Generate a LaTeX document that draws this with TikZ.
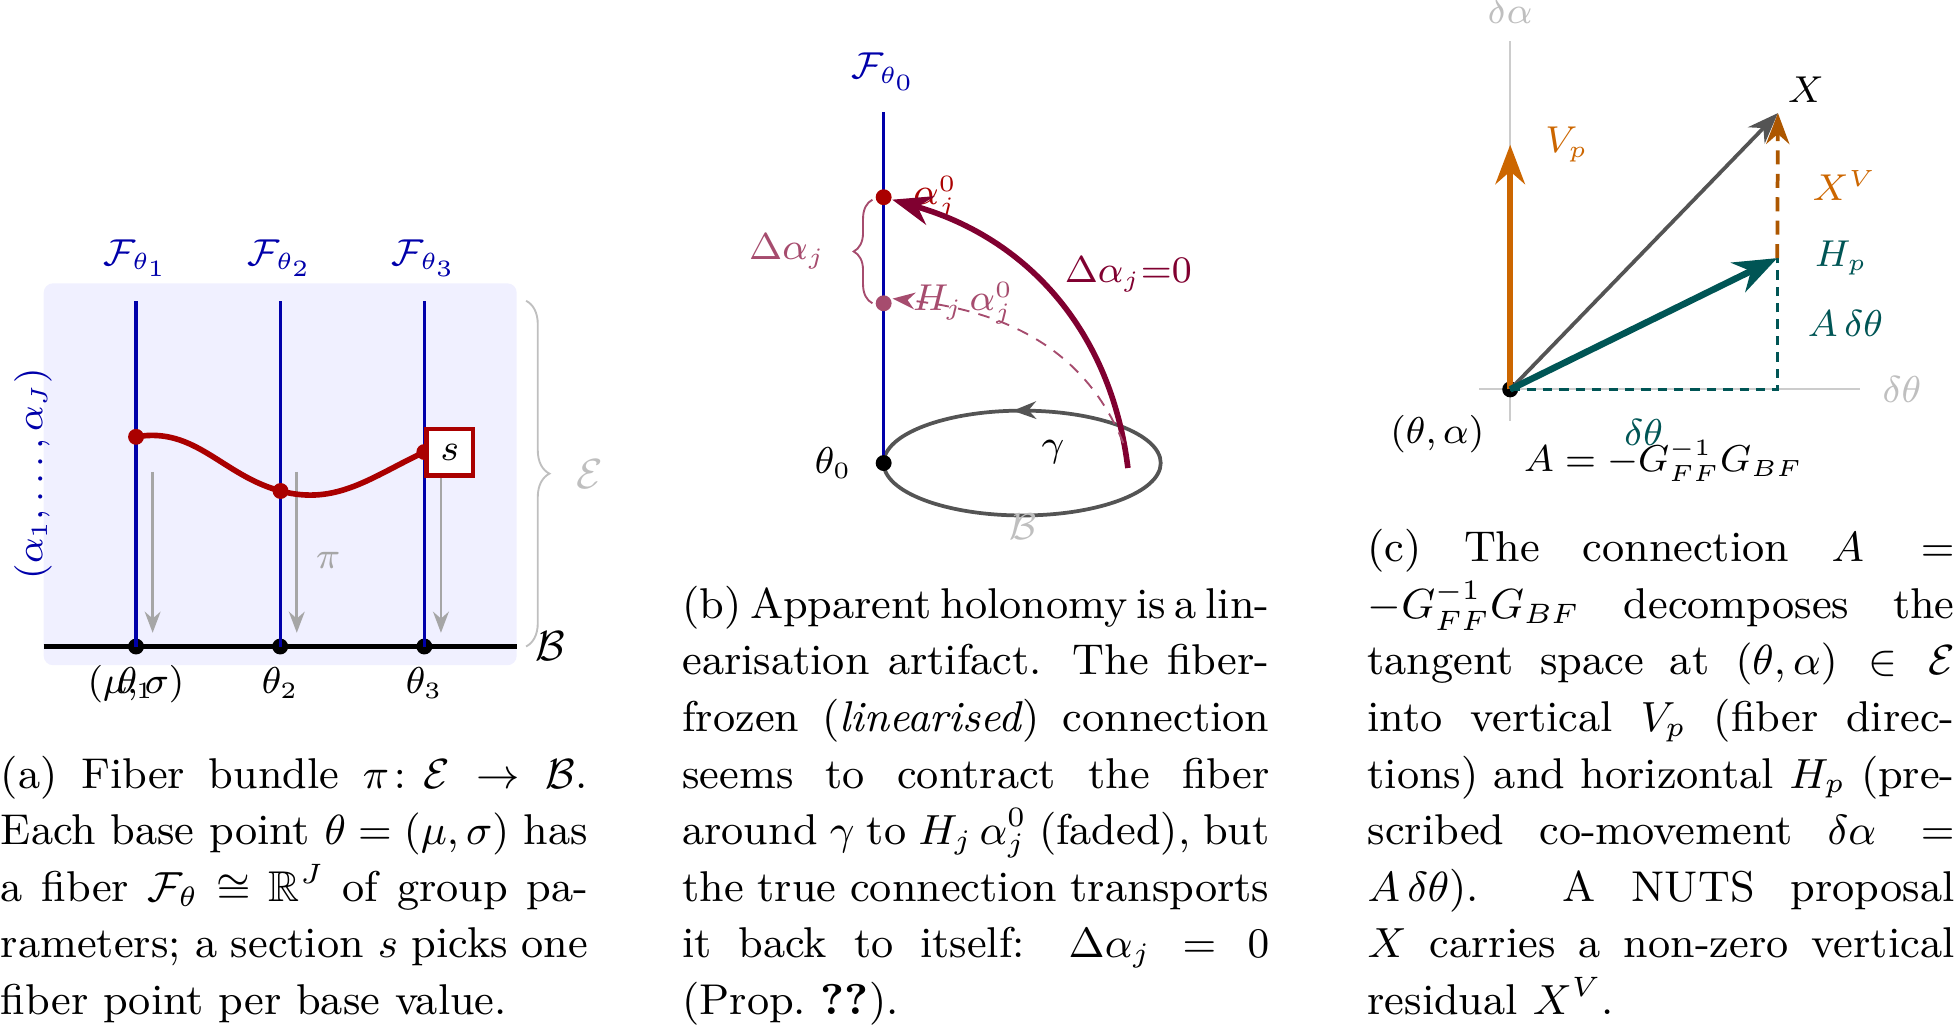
\documentclass[tikz,border=0pt]{standalone}
\usepackage{amsmath,amssymb}
\usepackage{xcolor}
\usepackage{tikz}
\usetikzlibrary{arrows.meta,decorations.pathreplacing,decorations.markings}

\definecolor{fibreblue}{RGB}{0,0,170}
\definecolor{sectred}{RGB}{170,0,0}
\definecolor{holred}{RGB}{128,0,48}
\definecolor{vertorange}{RGB}{204,102,0}
\definecolor{horteal}{RGB}{0,85,85}

\begin{document}
\begin{tikzpicture}[x=0.937cm, y=0.937cm, font=\fontsize{7.8}{9.4}\selectfont,
        fdot/.style={circle, fill, inner sep=0pt, minimum size=3.4pt},
        subcap/.style={anchor=south west, inner sep=0pt, text width=125.4pt, align=justify,
            font=\fontsize{9.2}{12.08}\selectfont}]
    \useasboundingbox (0,0) rectangle (15.68,8.22);

    % (a) fiber bundle
    \begin{scope}
        \fill[blue!6, rounded corners=2pt] (0.35,2.89) rectangle (4.14,5.95);
        \draw[very thick] (0.35,3.04) -- (4.14,3.04) node[right=0pt] (Blab) {\fontsize{9.4}{11}\selectfont$\mathcal{B}$};

        \foreach \x/\i in {1.09/1, 2.245/2, 3.40/3} {
            \node[fdot] (base\i) at (\x,3.04) {};
            \coordinate (top\i) at (\x,5.81);
            \draw[line width=0.7pt, fibreblue] (base\i.center) -- (top\i) node[above=1.4pt] (F\i) {$\mathcal{F}_{\theta_\i}$};
            \coordinate (pis\i) at (\x+0.133,4.44);
            \coordinate (pie\i) at (\x+0.133,3.15);
            \draw[semithick, black!35, -{Stealth[length=4.5pt]}] (pis\i) -- (pie\i);
            \node[anchor=base] (th\i) at (\x,2.66) {$\theta_\i$};
        }
        \node[anchor=base] (musig) at (1.09,2.66) {$(\mu,\sigma)$};
        \node[black!35] (pilab) at (2.63,3.73) {$\pi$};

        \node[fdot, sectred] (sA) at (1.09,4.72) {};
        \node[fdot, sectred] (sB) at (2.248,4.286) {};
        \node[fdot, sectred] (sC) at (3.40,4.598) {};
        \draw[very thick, sectred] (sA.center) to[out=10,in=165] (sB.center) to[out=-15,in=205] (sC.center);
        \node[right, draw=sectred, line width=1pt, fill=white, minimum size=9.9pt, inner sep=0pt] (sbox) at (sC) {$s$};

        \node[rotate=90, fibreblue] (alab) at (0.265,4.425) {$(\alpha_1,\dots,\alpha_J)$};
        \draw[black!25, decorate, decoration={brace, amplitude=5pt}] (4.215,5.81) -- (4.215,3.04)
            node[midway, right=7.3pt] (Elab) {\fontsize{9.4}{11}\selectfont$\mathcal{E}$};
    \end{scope}

    % (b) holonomy around a loop
    \begin{scope}
        \draw[thick, black!67, postaction={decorate},
            decoration={markings, mark=at position 0.265 with {\arrow{Stealth[length=5pt]}}}]
            (8.19,4.51) ellipse [x radius=1.11, y radius=0.42];
        \coordinate (top0) at (7.08,7.32);
        \draw[line width=0.7pt, fibreblue] (7.08,4.51) -- (top0) node[above=1pt] (F0) {$\mathcal{F}_{\theta_0}$};
        \node[fdot] (th0) at (7.08,4.51) {};
        \node[left=3.3pt] (lth0) at (th0) {$\theta_0$};
        \node (lgam) at (8.436,4.60) {$\gamma$};
        \node[black!25] (lB) at (8.20,4.00) {$\mathcal{B}$};

        \node[fdot, sectred] (a0) at (7.08,6.64) {};
        \node[fdot, holred!70] (ah) at (7.08,5.79) {};
        \node[right=2.8pt, sectred] (la0) at (a0) {$\alpha_j^0$};
        \node[right=2.7pt, holred!70] (lah) at (ah) {$H_j\,\alpha_j^0$};

        \coordinate (g1) at (9.037,4.47);
        \draw[line width=1.2pt, holred, -{Stealth}] (g1) to[out=97,in=-16] (a0);
        \node[holred] (ldel0) at (9.04,6.02) {$\Delta\alpha_j{=}0$};
        \coordinate (g2) at (9.00,4.67);
        \draw[holred!70, dash pattern=on 2.5pt off 2pt, -{Stealth}] (g2) to[out=112,in=-6] ([yshift=1pt]ah.east);
        \draw[holred!70, decorate, decoration={brace, amplitude=4pt}] (6.99,5.79) -- (6.99,6.62)
            node[midway, left=6.5pt] (ldel) {$\Delta\alpha_j$};
    \end{scope}

    % (c) vertical / horizontal split
    \begin{scope}
        \coordinate (vax0) at (12.10,4.85);
        \coordinate (vax1) at (12.10,7.89);
        \coordinate (hax0) at (11.854,5.10);
        \coordinate (hax1) at (14.90,5.10);
        \draw[black!20] (vax0) -- (vax1) node[above=0.3pt, black!25] (lda) {$\delta\alpha$};
        \draw[black!20] (hax0) -- (hax1) node[right=1.35pt, black!25] (ldt) {$\delta\theta$};
        \node[fdot] (p) at (12.10,5.10) {};
        \node[below left=2pt] (lpt) at (p) {$(\theta,\alpha)$};

        \coordinate (vp) at (12.10,7.06);
        \coordinate (xt) at (14.245,7.314);
        \coordinate (hp) at (14.24,6.152);
        \coordinate (hb) at (14.24,5.10);
        \draw[horteal, semithick, dash pattern=on 2pt off 1.5pt] (p.center) -- (hb)
            node[midway, below=2.8pt] (ldt2) {$\delta\theta$} -- (hp)
            node[midway, right=2.9pt] (lAdt) {$A\,\delta\theta$};
        \draw[line width=1.2pt, vertorange, -{Stealth}] (p.center) -- (vp) node[right=3.6pt] (lvp) {$V_p$};
        \draw[thick, black!67, -{Stealth}] (p.center) -- (xt);
        \node[above right, inner sep=2pt] (lx) at (xt) {$X$};
        \draw[line width=1.4pt, horteal, -{Stealth}] (p.center) -- (hp) node[right=4pt] (lhp) {$H_p$};
        \draw[thick, vertorange!85!black, dash pattern=on 3pt off 2pt, -{Stealth}] (hp) -- (xt)
            node[midway, right=3.8pt, vertorange] (lxv) {$X^V$};
        \node (lA) at (13.33,4.53) {$A=-G_{FF}^{-1}G_{BF}$};
    \end{scope}

    % captions
    \node[subcap] (capa) at (0,-0.05) {(a) Fiber bundle $\pi\colon\mathcal{E}\to\mathcal{B}$. Each base point $\theta=(\mu,\sigma)$ has a fiber $\mathcal{F}_\theta\cong\mathbb{R}^J$ of group parameters; a section $s$ picks one fiber point per base value.\strut};
    \node[subcap] (capb) at (5.46,-0.05) {{\spaceskip=0.3em plus 0.1em minus 0.15em (b) Apparent holonomy is a lin-}\linebreak{}earisation artifact. The fiber-\linebreak{}frozen (\emph{linearised}) connection\linebreak seems to contract the fiber\linebreak around $\gamma$ to $H_j\,\alpha_j^0$ (faded), but\linebreak the true connection transports\linebreak it back to itself: $\Delta\alpha_j=0$\linebreak (Prop.~\textbf{??}).\strut};
    \node[subcap] (capc) at (10.95,-0.05) {(c) The connection $A=$\linebreak$-G_{FF}^{-1}G_{BF}$ decomposes the\linebreak tangent space at $(\theta,\alpha)\in\mathcal{E}$\linebreak into vertical $V_p$ (fiber direc-\linebreak{}tions) and horizontal $H_p$ (pre-\linebreak{}scribed co-movement $\delta\alpha=$\linebreak$A\,\delta\theta$). A NUTS proposal\linebreak $X$ carries a non-zero vertical\linebreak residual $X^V$.\strut};
\end{tikzpicture}
\end{document}
